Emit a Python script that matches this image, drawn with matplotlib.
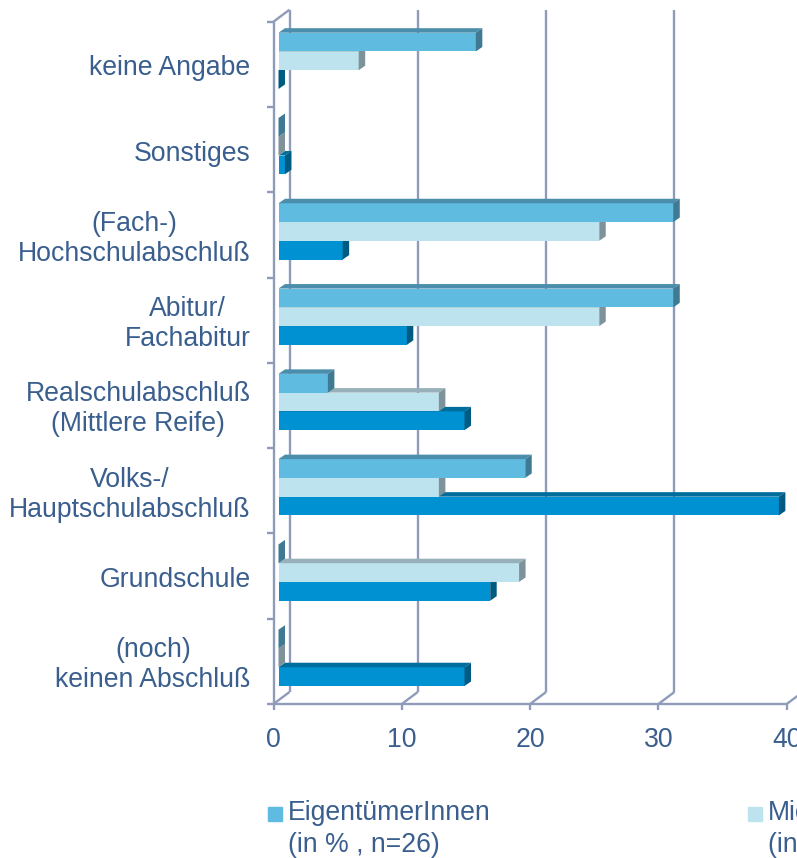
import matplotlib
matplotlib.use('Agg')
from matplotlib import pyplot as plt
from matplotlib.patches import Polygon, Rectangle

# Categories, bottom to top
CATEGORIES = ['(noch)\nkeinen Abschluß', 'Grundschule', 'Volks-/\nHauptschulabschluß',
              'Realschulabschluß\n(Mittlere Reife)', 'Abitur/\nFachabitur',
              '(Fach-)\nHochschulabschluß', 'Sonstiges', 'keine Angabe']

# Shares in %
EIGENTUEMER = [0.0, 0.0, 19.23, 3.85, 30.77, 30.77, 0.0, 15.38]
MIETER = [0.0, 18.75, 12.5, 12.5, 25.0, 25.0, 0.0, 6.25]
GESAMT = [14.5, 16.5, 39.0, 14.5, 10.0, 5.0, 0.5, 0.0]

SERIES_LABELS = ['EigentümerInnen\n(in % , n=26)', 'MieterInnen\n(in % , n=16)',
                 'Gesamt\n(in % , n=200)']
XTICKS = [0, 10, 20, 30, 40]

# front / top / side colour of each series
FACES = [('#5FBBE0', '#4B8EAB', '#3F7A92'),
         ('#BDE3EE', '#97B0BA', '#7E9299'),
         ('#0091D2', '#006E9C', '#005B82')]

LINE_COLOR = '#8F9CB9'
TEXT_COLOR = '#3A5F8E'
FONT = 'Liberation Sans'
FONTSIZE = 19.2

W, H = 797, 858
BAR_H = 0.22
BAR_DEPTH = (6.5, 4.5)   # pixels
FRONT = (-5.0, -3.5)     # front plane relative to bars, pixels
BACK = (11.0, 8.5)       # back wall relative to bars, pixels

fig = plt.figure(figsize = (W / 100, H / 100), dpi = 100)
ax = fig.add_axes([278.5 / W, 157.5 / H, 513.2 / W, 682.3 / H])
ax.set_xlim(0, 40)
ax.set_ylim(-0.5, len(CATEGORIES) - 0.5)
ax.axis('off')

px_x = ax.bbox.width / 40
px_y = ax.bbox.height / len(CATEGORIES)

def to_data(p):
  return p[0] / px_x, p[1] / px_y

dx, dy = to_data(BAR_DEPTH)
fx, fy = to_data(FRONT)
bx, by = to_data(BACK)
ytop = len(CATEGORIES) - 0.5
ybot = -0.5

line_kw = dict(color = LINE_COLOR, linewidth = 1.7, clip_on = False,
               solid_capstyle = 'butt', zorder = 1)

# back wall gridlines
for v in XTICKS:
  ax.plot([v + bx, v + bx], [ybot + by, ytop + by], **line_kw)

# floor diagonals and front value axis
for v in XTICKS:
  ax.plot([v + fx, v + bx], [ybot + fy, ybot + by], **line_kw)
  ax.plot([v + fx, v + fx], [ybot + fy, ybot + fy - 6 / px_y], **line_kw)
  ax.annotate(str(v), xy = (v + fx, ybot + fy), xytext = (0, -36),
              textcoords = 'offset pixels', ha = 'center', va = 'center',
              fontsize = FONTSIZE, family = FONT, color = TEXT_COLOR,
              annotation_clip = False)
ax.plot([fx, 40 + fx], [ybot + fy, ybot + fy], **line_kw)

# front category axis
ax.plot([fx, fx], [ybot + fy, ytop + fy], **line_kw)
ax.plot([fx, bx], [ytop + fy, ytop + by], **line_kw)
for i in range(len(CATEGORIES) + 1):
  b = i - 0.5 + fy
  ax.plot([fx - 7 / px_x, fx], [b, b], **line_kw)

for i, cat in enumerate(CATEGORIES):
  ax.annotate(cat, xy = (fx, i + fy), xytext = (-23, -4),
              textcoords = 'offset pixels', ha = 'right', va = 'center',
              multialignment = 'center', linespacing = 1.2,
              fontsize = FONTSIZE, family = FONT, color = TEXT_COLOR,
              annotation_clip = False)

# bars, drawn bottom to top so upper fronts hide lower top faces
series = [EIGENTUEMER, MIETER, GESAMT]
shifts = [BAR_H, 0.0, -BAR_H]
for s in [2, 1, 0]:
  front, top, side = FACES[s]
  z = 5 - s
  ys = [i + shifts[s] for i in range(len(CATEGORIES))]
  ax.barh(ys, series[s], height = BAR_H, color = front, linewidth = 0, zorder = z)
  for y, v in zip(ys, series[s]):
    y0, y1 = y - BAR_H / 2, y + BAR_H / 2
    ax.add_patch(Polygon([(0, y1), (v, y1), (v + dx, y1 + dy), (dx, y1 + dy)],
                         closed = True, facecolor = top, linewidth = 0,
                         zorder = z, clip_on = False))
    ax.add_patch(Polygon([(v, y0), (v + dx, y0 + dy), (v + dx, y1 + dy), (v, y1)],
                         closed = True, facecolor = side, linewidth = 0,
                         zorder = z, clip_on = False))

# legend along the bottom
for i, label in enumerate(SERIES_LABELS):
  x0 = 268.3 + 480 * i
  fig.add_artist(Rectangle((x0 / W, (H - 821) / H), 13.7 / W, 14.5 / H,
                           transform = fig.transFigure, color = FACES[i][0]))
  fig.text((x0 + 20) / W, (H - 829) / H, label, ha = 'left', va = 'center',
           linespacing = 1.25, fontsize = FONTSIZE, family = FONT,
           color = TEXT_COLOR)

fig.savefig('out.png', dpi = 100)
